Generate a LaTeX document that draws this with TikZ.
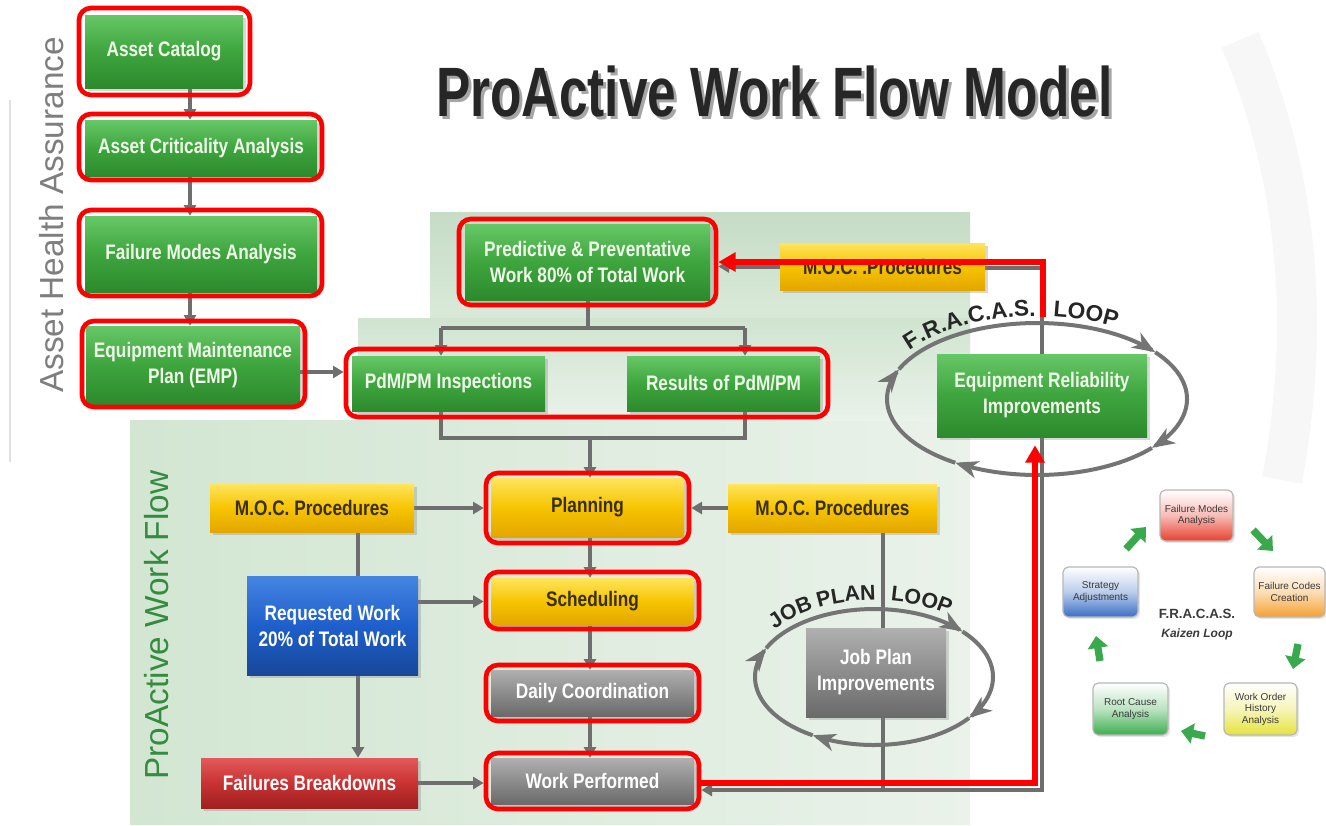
\documentclass[tikz,border=0pt]{standalone}
\usepackage{fontspec}
\usepackage{graphicx}
\setmainfont{Liberation Sans}
\newfontfamily\condf{Liberation Sans}[FakeStretch=0.82]
\usetikzlibrary{arrows.meta,shadows,fit,decorations.text}
\definecolor{gline}{HTML}{6E6E6E}
\definecolor{gA}{HTML}{66C766}
\definecolor{gB}{HTML}{3EA53E}
\definecolor{gC}{HTML}{2C8A2C}
\definecolor{yA}{HTML}{FFE45C}
\definecolor{yB}{HTML}{F6C400}
\definecolor{yC}{HTML}{E3A600}
\definecolor{bA}{HTML}{4585E2}
\definecolor{bB}{HTML}{1F5FCB}
\definecolor{bC}{HTML}{17489A}
\definecolor{sA}{HTML}{B0B0B0}
\definecolor{sB}{HTML}{8C8C8C}
\definecolor{sC}{HTML}{6A6A6A}
\definecolor{rA}{HTML}{E35A5A}
\definecolor{rB}{HTML}{C93232}
\definecolor{rC}{HTML}{A02020}
\definecolor{ytext}{HTML}{3A2E05}
\definecolor{gtext}{HTML}{F0FAEA}
\definecolor{loopc}{HTML}{747474}
\definecolor{loopt}{HTML}{262626}
\definecolor{pwfc}{HTML}{358B3E}
\definecolor{ahac}{HTML}{7E7E7E}
\definecolor{kR}{HTML}{E8402E}
\definecolor{kO}{HTML}{F5A030}
\definecolor{kY}{HTML}{E6E23A}
\definecolor{kG}{HTML}{3DAE50}
\definecolor{kB}{HTML}{3A6FC6}
\definecolor{ktext}{HTML}{3A3A3A}
\definecolor{karr}{HTML}{3AA84C}
\definecolor{panA}{HTML}{D2E6D2}
\definecolor{panB}{HTML}{EAF2EA}
\definecolor{panT}{HTML}{C6DCC6}
\definecolor{titlec}{HTML}{262626}
\pgfdeclarelayer{bg}
\pgfdeclarelayer{lines}
\pgfdeclarelayer{front}
\pgfsetlayers{bg,lines,main,front}
\begin{document}
\begin{tikzpicture}[x=0.75pt,y=-0.75pt,
  at box/.style n args={4}{minimum width={(#3-#1)*0.75pt}, minimum height={(#4-#2)*0.75pt},
    at={({(#1+#3)/2},{(#2+#4)/2})}},
  box/.style={inner sep=0pt, align=center,
    font=\condf\bfseries\fontsize{15.75}{19.5}\selectfont,
    drop shadow={shadow xshift=2.5pt, shadow yshift=-2.5pt, opacity=0.3}},
  gbox/.style={box, top color=gA, bottom color=gC, middle color=gB, text=gtext},
  ybox/.style={box, top color=yA, bottom color=yC, middle color=yB, text=ytext},
  bbox/.style={box, top color=bA, bottom color=bC, middle color=bB, text=white},
  sbox/.style={box, top color=sA, bottom color=sC, middle color=sB, text=white},
  rbx/.style={box, top color=rA, bottom color=rC, middle color=rB, text=white},
  redbox/.style={draw=red, line width=3.5pt, rounded corners=9pt, inner sep=0pt},
  kbox/.style={draw=black!28, line width=0.9pt, rounded corners=4pt, inner sep=0pt,
    align=center, font=\fontsize{7.5}{8.6}\selectfont, text=ktext,
    top color=white, bottom color=#1, middle color=#1!35,
    drop shadow={shadow xshift=1.5pt, shadow yshift=-1.5pt, opacity=0.2}},
  conn/.style={draw=gline, line width=3pt, -{Triangle[width=9pt,length=8pt]}},
  gl/.style={draw=gline, line width=3pt},
  redarrow/.style={draw=red, line width=4.5pt, -{Triangle[width=14pt,length=13pt]}},
  loopseg/.style={draw=loopc, line width=3pt, -{Stealth[length=17pt,width=13pt,inset=5pt]}},
  karrow/.style={draw=karr, line width=5.5pt, -{Triangle[width=15pt,length=9pt]}}
]
\useasboundingbox (0,0) rectangle (1326,825);

% ---------------- background
\begin{pgfonlayer}{bg}
\fill[white] (0,0) rectangle (1326,825);
\shade[left color=panA, right color=panB] (430,212) -- (970,212) -- (970,825) -- (130,825) -- (130,420) -- (358,420) -- (358,318) -- (430,318) -- cycle;
\shade[top color=panT, bottom color=panA!70!panB] (430,212) rectangle (970,318);
\shade[top color=panA!80!panT, bottom color=panB] (358,318) rectangle (970,420);
\draw[black!12, line width=1.2pt] (10,100) -- (10,462);
\draw[black!3, line width=30pt] (1240,40) .. controls (1300,180) and (1310,330) .. (1282,480);
\end{pgfonlayer}

% ---------------- title and side labels
\node[anchor=south west, inner sep=0pt, text=black!35] at (439,120)
  {\resizebox{507pt}{38pt}{\bfseries ProActive Work Flow Model}};
\node[anchor=south west, inner sep=0pt, text=titlec] (title) at (436,117)
  {\resizebox{507pt}{38pt}{\bfseries ProActive Work Flow Model}};
\node[rotate=90, inner sep=0pt, text=ahac, font=\fontsize{25}{30}\selectfont] (aha) at (52,215) {Asset Health Assurance};
\node[rotate=90, inner sep=0pt, text=pwfc, font=\fontsize{25}{30}\selectfont] (pwf) at (157,625) {ProActive Work Flow};

% ---------------- boxes
\node[gbox, at box={85}{15}{243}{88}] (ac) {Asset Catalog};
\node[gbox, at box={85}{120}{317}{176}] (aca) {Asset Criticality Analysis};
\node[gbox, at box={85}{216}{317}{292}] (fma) {Failure Modes Analysis};
\node[gbox, at box={86}{326}{300}{404}] (emp) {Equipment Maintenance\\Plan (EMP)};
\node[gbox, at box={352}{356}{545}{411}] (pdm) {PdM/PM Inspections};
\node[gbox, at box={627}{356}{820}{411}] (res) {Results of PdM/PM};
\node[gbox, at box={465}{224}{710}{300}] (pred) {Predictive \& Preventative\\Work 80\% of Total Work};
\node[ybox, at box={780}{243}{985}{290}] (mocT) {M.O.C. .Procedures};
\node[gbox, at box={937}{354}{1147}{437}] (eri) {Equipment Reliability\\Improvements};
\node[ybox, at box={491}{478}{684}{537}] (plan) {Planning};
\node[ybox, at box={210}{484}{414}{532}] (mocL) {M.O.C. Procedures};
\node[ybox, at box={728}{484}{937}{532}] (mocR) {M.O.C. Procedures};
\node[bbox, at box={247}{576}{418}{675}] (req) {Requested Work\\20\% of Total Work};
\node[ybox, at box={491}{578}{694}{625}] (sched) {Scheduling};
\node[sbox, at box={491}{670}{694}{716}] (daily) {Daily Coordination};
\node[sbox, at box={491}{758}{694}{804}] (work) {Work Performed};
\node[rbx, at box={201}{758}{418}{808}] (fail) {Failures Breakdowns};
\node[sbox, at box={806}{628}{946}{717}] (jpi) {Job Plan\\Improvements};

% ---------------- red outlines
\begin{pgfonlayer}{front}
\node[redbox, fit={(79,8) (250,95)}] (rac) {};
\node[redbox, fit={(79,114) (322,180)}] (raca) {};
\node[redbox, fit={(79,210) (322,296)}] (rfma) {};
\node[redbox, fit={(82,321) (305,407)}] (remp) {};
\node[redbox, fit={(346,349) (828,417)}] (rpdm) {};
\node[redbox, fit={(459,219) (716,305)}] (rpred) {};
\node[redbox, fit={(486,473) (689,543)}] (rplan) {};
\node[redbox, fit={(486,572) (699,629)}] (rsched) {};
\node[redbox, fit={(486,665) (699,721)}] (rdaily) {};
\node[redbox, fit={(486,753) (699,809)}] (rwork) {};
\end{pgfonlayer}

% ---------------- helper coordinates
\coordinate (colA) at (190,0);
\coordinate (colL) at (441,0);
\coordinate (colR) at (745,0);
\coordinate (colM) at (358,0);
\coordinate (colJ) at (883,0);
\coordinate (colE) at (1042,0);
\coordinate (mid) at (590,0);
\coordinate (rowE) at (0,372);
\coordinate (rowS) at (0,328);
\coordinate (rowM) at (0,438);
\coordinate (rowB) at (0,790);
\coordinate (rowT) at (0,268);
\coordinate (rb) at (1035,783);
\coordinate (rt) at (1043,262);
\coordinate (rs) at (1043,317);

% ---------------- gray connectors
\begin{pgfonlayer}{lines}
\draw[conn] (ac.south -| colA) -- (aca.north -| colA);
\draw[conn] (aca.south -| colA) -- (fma.north -| colA);
\draw[conn] (fma.south -| colA) -- (emp.north -| colA);
\draw[conn] (emp.east |- rowE) -- (rpdm.west |- rowE);
\draw[gl] (pred.south) -- (pred.south |- rowS);
\draw[gl] (colL |- rowS) -- (colR |- rowS);
\draw[conn] (colL |- rowS) -- (colL |- pdm.north);
\draw[conn] (colR |- rowS) -- (colR |- res.north);
\draw[gl] (colL |- pdm.south) -- (colL |- rowM) -- (colR |- rowM) -- (colR |- res.south);
\draw[conn] (mid |- rowM) -- (mid |- plan.north);
\draw[conn] (mocL.east) -- (rplan.west |- mocL.east);
\draw[conn] (mocR.west) -- (rplan.east |- mocR.west);
\draw[conn] (mid |- plan.south) -- (mid |- sched.north);
\draw[conn] (mid |- sched.south) -- (mid |- daily.north);
\draw[conn] (mid |- daily.south) -- (mid |- work.north);
\draw[gl] (mocL.south -| colM) -- (req.north -| colM);
\draw[conn] (req.east |- sched.west) -- (rsched.west |- sched.west);
\draw[conn] (req.south -| colM) -- (fail.north -| colM);
\draw[conn] (fail.east) -- (rwork.west |- fail.east);
\draw[gl] (mocR.south -| colJ) -- (colJ |- rowB);
\draw[conn] (eri.south -| colE) -- (colE |- rowB) -- (rwork.east |- rowB);
\draw[gl] (eri.north -| colE) -- (colE |- rowT) -- (mocT.east |- rowT);
\draw[conn] (mocT.west) -- (rpred.east |- mocT.west);

% FRACAS loop
\draw[loopseg] plot[domain=203:322, samples=60, variable=\t] ({1037+150*cos(\t)},{399+76*sin(\t)});
\draw[loopseg] plot[domain=322:400, samples=40, variable=\t] ({1037+150*cos(\t)},{399+76*sin(\t)});
\draw[loopseg] plot[domain=400:483, samples=40, variable=\t] ({1037+150*cos(\t)},{399+76*sin(\t)});
\draw[loopseg] plot[domain=483:563, samples=40, variable=\t] ({1037+150*cos(\t)},{399+76*sin(\t)});
% Job plan loop
\draw[loopseg] plot[domain=205:318, samples=60, variable=\t] ({874+119*cos(\t)},{677+68*sin(\t)});
\draw[loopseg] plot[domain=318:397, samples=40, variable=\t] ({874+119*cos(\t)},{677+68*sin(\t)});
\draw[loopseg] plot[domain=397:481, samples=40, variable=\t] ({874+119*cos(\t)},{677+68*sin(\t)});
\draw[loopseg] plot[domain=481:565, samples=40, variable=\t] ({874+119*cos(\t)},{677+68*sin(\t)});
\end{pgfonlayer}

% loop texts
\path[decorate, decoration={text along path, text align=left,
  text={|\bfseries\fontsize{17}{19}\selectfont\color{loopt}|F.R.A.C.A.S.{\hspace*{13pt}}LOOP}}]
  plot[domain=216:345, samples=80, variable=\t] ({1037+157*cos(\t)},{399+83*sin(\t)});
\path[decorate, decoration={text along path, text align=left,
  text={|\bfseries\fontsize{16}{18}\selectfont\color{loopt}|JOB{\hspace*{4pt}}PLAN{\hspace*{11pt}}LOOP}}]
  plot[domain=218:340, samples=80, variable=\t] ({874+126*cos(\t)},{677+77*sin(\t)});

% ---------------- red arrows
\begin{pgfonlayer}{front}
\draw[redarrow, shorten >=6pt] (rwork.east |- rb) -- (rb) -- (rb |- eri.south);
\draw[redarrow] (rs) -- (rt) -- (rpred.east |- rt);
\end{pgfonlayer}

% ---------------- Kaizen loop
\node[kbox=kR, at box={1160}{490}{1233}{541}] (k1) {Failure Modes\\Analysis};
\node[kbox=kO, at box={1254}{567}{1325}{617}] (k2) {Failure Codes\\Creation};
\node[kbox=kY, at box={1224}{683}{1297}{735}] (k3) {Work Order\\History\\Analysis};
\node[kbox=kG, at box={1093}{683}{1168}{735}] (k4) {Root Cause\\Analysis};
\node[kbox=kB, at box={1063}{567}{1138}{617}] (k5) {Strategy\\Adjustments};
\node[inner sep=0pt, font=\bfseries\fontsize{10}{12}\selectfont, text=ktext] (kt) at (1197,614) {F.R.A.C.A.S.};
\node[inner sep=0pt, font=\bfseries\itshape\fontsize{9}{11}\selectfont, text=ktext] (kl) at (1197,634) {Kaizen Loop};
\draw[karrow] (1126,549) -- (1146,527);
\draw[karrow] (1253,530) -- (1273,551);
\draw[karrow] (1298,644) -- (1293,669);
\draw[karrow] (1205,736) -- (1181,731);
\draw[karrow] (1100,661) -- (1096,636);
\end{tikzpicture}
\end{document}
